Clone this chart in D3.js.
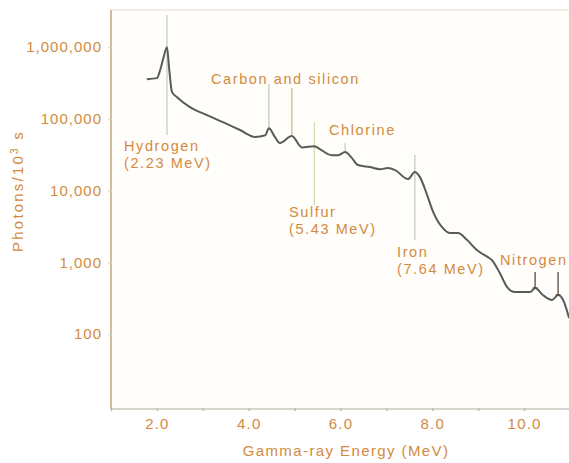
<!DOCTYPE html>
<html>
<head>
<meta charset="utf-8">
<script src="https://cdn.jsdelivr.net/npm/d3@7"></script>
<style>
  html, body { margin: 0; padding: 0; background: #ffffff; }
  svg { display: block; font-family: "Liberation Sans", Arial, sans-serif; }
</style>
</head>
<body>
<svg id="chart" width="569" height="463"></svg>
<script>
// Gamma-ray spectrum: energy (MeV) and photon count per 10^3 s
const energy = [1.78, 2.00, 2.07, 2.14, 2.22, 2.27, 2.33, 2.44, 2.72, 3.09, 3.44, 3.81, 4.14, 4.36, 4.44,
  4.57, 4.68, 4.94, 5.16, 5.43, 5.55, 5.81, 5.95, 6.10, 6.25, 6.38, 6.64, 6.86, 7.03, 7.19,
  7.47, 7.62, 7.73, 7.88, 8.02, 8.23, 8.39, 8.56, 8.76, 8.97, 9.21, 9.30, 9.47, 9.63, 9.80,
  10.13, 10.24, 10.41, 10.61, 10.74, 10.85, 10.98];
const photons = [358000, 370000, 477000, 700000, 1000000, 477000, 236000, 201000, 146000, 113000, 90000, 70000, 56000, 59000, 74000,
  56000, 46000, 57500, 40000, 41700, 37900, 31200, 31200, 34400, 28400, 22700, 21300, 19900, 20600, 19300,
  14500, 18100, 15400, 8940, 5010, 3000, 2560, 2560, 2040, 1480, 1180, 1070, 708, 452, 385,
  385, 438, 350, 298, 350, 298, 167];

const xTicks = [1, 2, 3, 4, 5, 6, 7, 8, 9, 10, 11];
const xTickLabels = ["2.0", "4.0", "6.0", "8.0", "10.0"];
const xLabelValues = [2, 4, 6, 8, 10];
const yTickValues = [100, 1000, 10000, 100000, 1000000];
const yTickLabels = ["100", "1,000", "10,000", "100,000", "1,000,000"];

// Element labels and the energies of their lines
const elementNames = ["Hydrogen", "Carbon and silicon", "Chlorine", "Sulfur", "Iron", "Nitrogen"];
const elementSub = ["(2.23 MeV)", "", "", "(5.43 MeV)", "(7.64 MeV)", ""];
const markerEnergy = [2.22, 4.44, 4.94, 5.43, 6.10, 7.62];
const nitrogenEnergy = [10.24, 10.74];

const orange = "#d38a40";
const FS = 15;
const svg = d3.select("#chart");
const W = 569, H = 463;
const plotL = 111, plotR = 570, plotT = 10, plotB = 409;

const x = d3.scaleLinear().domain([1, 11]).range([plotL, plotR]);
const y = d3.scaleLog().domain([9, 3.3e6]).range([plotB, plotT]);

// plot panel
svg.append("rect").attr("x", plotL).attr("y", plotT).attr("width", W - plotL).attr("height", plotB - plotT)
  .attr("fill", "#fffefb");
svg.append("line").attr("x1", plotL).attr("x2", W).attr("y1", plotT).attr("y2", plotT)
  .attr("stroke", "#ece8dc").attr("stroke-width", 1.5);

// element marker lines
const markerSpan = [[15, 135], [84, 128], [88, 136], [122, 205], [143, 152], [155, 240]];
const markerColor = ["#c9cfb8", "#c6c6c0", "#d9b490", "#d6ddb0", "#cfcfc8", "#c8c8c4"];
svg.append("g").selectAll("line").data(markerEnergy).join("line")
  .attr("x1", d => x(d)).attr("x2", d => x(d))
  .attr("y1", (d, i) => markerSpan[i][0]).attr("y2", (d, i) => markerSpan[i][1])
  .attr("stroke", (d, i) => markerColor[i]).attr("stroke-width", 1.3);

// spectrum curve
const pts = energy.map((e, i) => [e, photons[i]]);
const line = d3.line().x(d => x(d[0])).y(d => y(d[1])).curve(d3.curveMonotoneX);
svg.append("path").datum(pts).attr("d", line)
  .attr("fill", "none").attr("stroke", "#5a5a58").attr("stroke-width", 2)
  .attr("stroke-linejoin", "round").style("filter", "blur(0.35px)");

// nitrogen tick marks
const nTop = [272, 272];
nitrogenEnergy.forEach((e, i) => {
  const idx = energy.indexOf(e);
  const yb = y(photons[idx]);
  svg.append("line").attr("x1", x(e)).attr("x2", x(e)).attr("y1", nTop[i]).attr("y2", yb)
    .attr("stroke", "#5b4a3a").attr("stroke-width", 1.3);
  svg.append("line").attr("x1", x(e) - 2.5).attr("x2", x(e) + 2.5).attr("y1", yb).attr("y2", yb)
    .attr("stroke", "#5b4a3a").attr("stroke-width", 1.3);
});

// axes
svg.append("line").attr("x1", plotL).attr("x2", plotL).attr("y1", plotT).attr("y2", plotB)
  .attr("stroke", "#c9a476").attr("stroke-width", 1.5);
svg.append("line").attr("x1", plotL).attr("x2", W).attr("y1", plotB).attr("y2", plotB)
  .attr("stroke", "#c8c6bc").attr("stroke-width", 1.5);

const xAxis = d3.axisBottom(x).tickValues(xTicks).tickSize(3).tickFormat("");
const gx = svg.append("g").attr("transform", `translate(0,${plotB - 1})`).call(xAxis);
gx.select(".domain").remove();
gx.selectAll(".tick line").attr("stroke", "#bdbbb2").attr("stroke-width", 1.5);

const xLab = d3.axisBottom(x).tickValues(xLabelValues).tickSize(0)
  .tickFormat((d, i) => xTickLabels[i]).tickPadding(9);
const gxl = svg.append("g").attr("transform", `translate(0,${plotB})`).call(xLab);
gxl.select(".domain").remove();
gxl.selectAll("text").attr("fill", orange).attr("font-size", FS)
  .style("font-family", "'Liberation Sans', Arial, sans-serif").attr("letter-spacing", 1.2);

const yAxis = d3.axisLeft(y).tickValues(yTickValues).tickSize(3)
  .tickFormat((d, i) => yTickLabels[i]).tickPadding(6);
const gy = svg.append("g").attr("transform", `translate(${plotL},0)`).call(yAxis);
gy.select(".domain").remove();
gy.selectAll(".tick line").attr("stroke", "#dcdad2").attr("stroke-width", 1.5);
gy.selectAll("text").attr("fill", orange).attr("font-size", FS)
  .style("font-family", "'Liberation Sans', Arial, sans-serif").attr("letter-spacing", 1.0);

// axis titles
svg.append("text").attr("x", 346).attr("y", 456).attr("text-anchor", "middle")
  .attr("fill", orange).attr("font-size", FS).attr("letter-spacing", 1.4)
  .text("Gamma-ray Energy (MeV)");
svg.append("text").attr("transform", "translate(23,191) rotate(-90)").attr("text-anchor", "middle")
  .attr("fill", orange).attr("font-size", FS).attr("letter-spacing", 2.2)
  .html("Photons/10<tspan dy='-5' font-size='10'>3</tspan><tspan dy='5'> s</tspan>");

// element labels (name line, then energy line beneath)
const labelPos = [[124, 151], [211, 84], [329, 135], [289, 217], [397, 257], [500, 265]];
const labelFS = 14.5;
elementNames.forEach((n, i) => {
  svg.append("text").attr("x", labelPos[i][0]).attr("y", labelPos[i][1])
    .attr("fill", orange).attr("font-size", labelFS).attr("letter-spacing", 1.6).text(n);
  if (elementSub[i]) {
    svg.append("text").attr("x", labelPos[i][0]).attr("y", labelPos[i][1] + 16.5)
      .attr("fill", orange).attr("font-size", labelFS).attr("letter-spacing", 1.6).text(elementSub[i]);
  }
});
</script>
</body>
</html>
